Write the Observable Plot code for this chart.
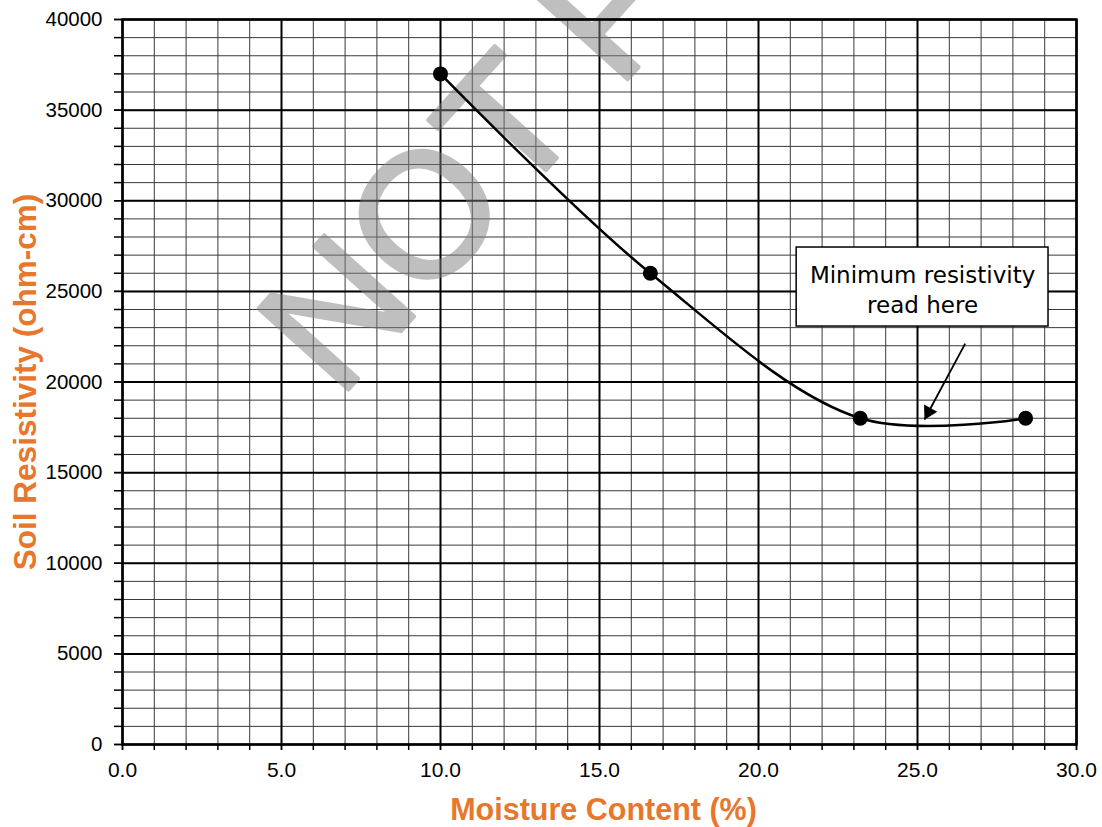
<!DOCTYPE html>
<html>
<head>
<meta charset="utf-8">
<script src="https://cdn.jsdelivr.net/npm/d3@7"></script>
<script src="https://cdn.jsdelivr.net/npm/@observablehq/plot@0.6"></script>
<style>
  html, body { margin: 0; padding: 0; background: #fff; }
  #chart { width: 1102px; height: 827px; }
</style>
</head>
<body>
<div id="chart"></div>
<script>
// ---- data ----
const moisture = [10.0, 16.6, 23.2, 28.4];
const resistivity = [37000, 26000, 18000, 18000];

// ---- ticks ----
const xMajor = [0, 5, 10, 15, 20, 25, 30];
const yMajor = [0, 5000, 10000, 15000, 20000, 25000, 30000, 35000, 40000];
const xMinor = d3.range(0, 31, 1);
const yMinor = d3.range(0, 40001, 1000);

// ---- labels / annotation ----
const xLabel = ["Moisture Content (%)"];
const yLabel = ["Soil Resistivity (ohm-cm)"];
const noteText = ["Minimum resistivity\nread here"];
const noteBox = [{x1: 21.2, x2: 29.12, y1: 23060, y2: 27420}];
const noteAnchor = [{x: 25.16, y: 25180}];
const arrowLine = [{x1: 26.5, y1: 22120, x2: 25.22, y2: 17930}];
const watermark = [{text: "NOT FOR CONSTRUCTION", x: 6.8, y: 19000}];

const points = moisture.map((m, i) => ({m, r: resistivity[i]}));
const orange = "#E8762B";
const sans = "'Liberation Sans', Arial, sans-serif";

const chart = Plot.plot({
  width: 1102,
  height: 827,
  marginLeft: 122,
  marginRight: 26,
  marginTop: 19,
  marginBottom: 83,
  style: {fontFamily: sans, background: "#fff", color: "#000"},
  x: {domain: [0, 30], label: null},
  y: {domain: [0, 40000], label: null},
  marks: [
    // minor grid
    Plot.ruleX(xMinor, {x: d => d, stroke: "#3a3a3a", strokeWidth: 1}),
    Plot.ruleY(yMinor, {y: d => d, stroke: "#3a3a3a", strokeWidth: 1}),
    // major grid
    Plot.ruleX(xMajor, {x: d => d, stroke: "#000", strokeWidth: 2}),
    Plot.ruleY(yMajor, {y: d => d, stroke: "#000", strokeWidth: 2}),
    // watermark
    Plot.text(watermark, {x: "x", y: "y", text: "text", rotate: -48, textAnchor: "start", lineAnchor: "bottom",
      fontSize: 176, fontWeight: "normal", fill: "#808080", stroke: "#808080", strokeWidth: 4, opacity: 0.5,
      fontFamily: sans}),
    Plot.frame({stroke: "#000", strokeWidth: 2.5}),
    // axes
    Plot.axisX({ticks: xMinor, tickFormat: () => "", tickSize: 6, strokeWidth: 1.5, label: null}),
    Plot.axisX({ticks: xMajor, tickFormat: d3.format(".1f"), tickSize: 6, tickPadding: 12, strokeWidth: 1.5,
      fontSize: 21, fill: "#000", label: null}),
    Plot.axisY({ticks: yMinor, tickFormat: () => "", tickSize: 8, strokeWidth: 1.5, label: null}),
    Plot.axisY({ticks: yMajor, tickFormat: d3.format("d"), tickSize: 8, tickPadding: 12, strokeWidth: 1.5,
      fontSize: 20.5, fill: "#000", label: null}),
    // axis titles
    Plot.text(xLabel, {frameAnchor: "bottom", dy: 66, dx: 4, text: d => d, fontSize: 30.5, fontWeight: "bold",
      fill: orange, lineAnchor: "middle", textAnchor: "middle"}),
    Plot.text(yLabel, {frameAnchor: "left", dx: -97, text: d => d, rotate: -90, fontSize: 31.5, fontWeight: "bold",
      fill: orange, lineAnchor: "middle", textAnchor: "middle"}),
    // data
    Plot.line(points, {x: "m", y: "r", curve: "catmull-rom", stroke: "#000", strokeWidth: 2.5}),
    Plot.dot(points, {x: "m", y: "r", r: 7.5, fill: "#000"}),
    // annotation
    Plot.rect(noteBox, {x1: "x1", x2: "x2", y1: "y1", y2: "y2", fill: "#fff", stroke: "#000", strokeWidth: 1.5}),
    Plot.text(noteText, {x: () => noteAnchor[0].x, y: () => noteAnchor[0].y, text: d => d, fontSize: 23, lineHeight: 1.3,
      fontFamily: "'DejaVu Sans', Verdana, sans-serif", fill: "#000"}),
    Plot.link(arrowLine, {x1: "x1", y1: "y1", x2: "x2", y2: "y2", stroke: "#000", strokeWidth: 1.8}),
    Plot.dot(arrowLine, {x: "x2", y: "y2", symbol: "triangle", r: 5.6, fill: "#000", stroke: "none", rotate: 208.4, dx: 4.1, dy: -7.5})
  ]
});
document.getElementById("chart").appendChild(chart);
</script>
</body>
</html>
